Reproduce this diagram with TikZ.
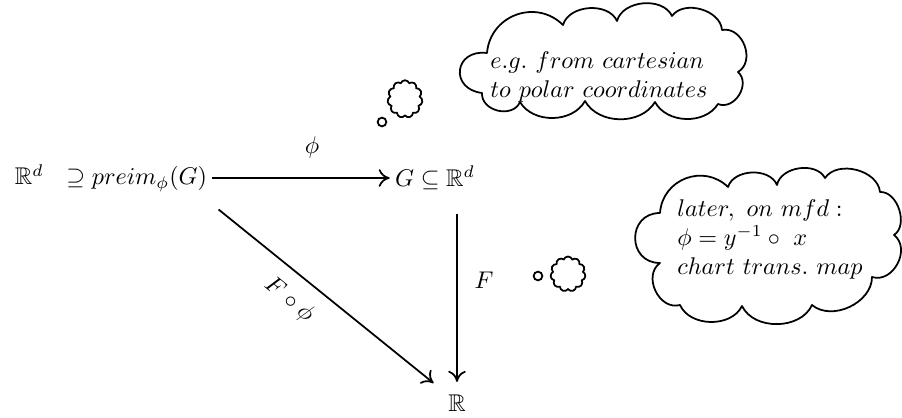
\documentclass[tikz,border=0pt]{standalone}
\usepackage{amssymb}
\usetikzlibrary{shapes.symbols,arrows.meta}
\tikzset{
  px/.style={x=0.016cm,y=-0.016cm},
  txt/.style={scale=1.1},
  mapto/.style={line width=0.8pt,-{Computer Modern Rightarrow[length=5pt,width=8pt]}},
  cloudline/.style={line width=0.8pt,line join=round},
  pf/.style={bend left=#1},
  smallcloud/.style={cloud,draw,line width=0.8pt,cloud puffs=11,cloud puff arc=140,cloud ignores aspect,inner sep=0pt},
  bubble/.style={circle,draw,line width=0.8pt,inner sep=0pt,minimum size=0.14cm},
  obj/.style={txt,inner sep=2pt}
}
\begin{document}
\begin{tikzpicture}[px]
\useasboundingbox (0,0) rectangle (902,418);
% objects
\node[obj] (L) at (111,178) {$\mathbb{R}^d\ \ \supseteq preim_\phi(G)$};
\node[obj] (G) at (435,178) {$G\subseteq\mathbb{R}^d$};
\node[obj] (R) at (457,403) {$\mathbb{R}$};
% arrows
\draw[mapto] (L.east) -- (G.west);
\node[txt] (phi) at (312,147) {$\phi$};
\draw[mapto] ([yshift=-0.3cm]G.south -| R.north) -- ([yshift=0.12cm]R.north);
\node[txt] (F) at (484,280) {$F$};
\draw[mapto] ([xshift=0.1cm,yshift=-0.2cm]L.south east) -- ([xshift=-0.15cm,yshift=0.1cm]R.north west);
\node[txt,rotate=-39.2] (Fphi) at (289,300) {$F\circ\phi$};
% thought bubble 1
\draw[cloudline] (487,53) to[pf=65,looseness=1.2] (563,25) to[pf=70] (617,21) to[pf=70] (672,16)
  to[pf=70] (722,30) to[pf=80,looseness=1.2] (738,72) to[pf=80,looseness=1.2] (718,104) to[pf=60] (655,102)
  to[pf=60] (585,101) to[pf=60] (520,102) to[pf=80,looseness=1.2] (482,93) to[pf=90,looseness=2.1] cycle;
\node[txt,align=left] (T1) at (599,77) {$e.g.\ from\ cartesian$\\$to\ polar\ coordinates$};
\node[smallcloud,minimum width=0.56cm,minimum height=0.6cm] (s1) at (405,99) {};
\node[bubble] (b1) at (382,122) {};
% thought bubble 2
\draw[cloudline] (660,213) to[pf=65,looseness=1.2] (728,187) to[pf=70] (777,185) to[pf=70] (825,178)
  to[pf=70] (880,192) to[pf=75] (894,235) to[pf=80,looseness=1.2] (872,277) to[pf=65] (812,305)
  to[pf=65] (742,306) to[pf=65] (680,305) to[pf=80,looseness=1.2] (660,263) to[pf=90,looseness=1.7] cycle;
\node[txt,align=left] (T2) at (770,239) {$later,\ on\ mfd:$\\$\phi=y^{-1}\circ\ x$\\$chart\ trans.\ map$};
\node[smallcloud,minimum width=0.56cm,minimum height=0.56cm] (s2) at (568,274) {};
\node[bubble] (b2) at (538,276) {};
\end{tikzpicture}
\end{document}
